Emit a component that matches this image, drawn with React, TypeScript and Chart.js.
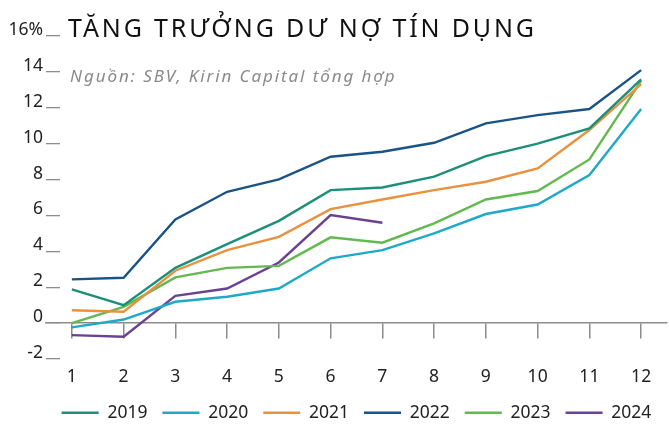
import React, { useEffect, useRef } from 'react';
import { Chart, registerables } from 'chart.js';

Chart.register(...registerables);

const months = ['1', '2', '3', '4', '5', '6', '7', '8', '9', '10', '11', '12'];
const seriesNames = ['2019', '2020', '2021', '2022', '2023', '2024'];
const seriesColors = ['#1B8F78', '#1FA9C9', '#E8923F', '#1A5386', '#62B94F', '#6A4193'];

const s2019 = [1.88, 1.0, 3.08, 4.4, 5.7, 7.41, 7.56, 8.16, 9.31, 10.0, 10.85, 13.58];
const s2020 = [-0.24, 0.2, 1.19, 1.47, 1.93, 3.61, 4.07, 5.0, 6.08, 6.61, 8.25, 11.93];
const s2021 = [0.72, 0.63, 2.92, 4.07, 4.81, 6.35, 6.89, 7.41, 7.88, 8.62, 10.76, 13.32];
const s2022 = [2.44, 2.53, 5.78, 7.32, 8.01, 9.27, 9.55, 10.05, 11.13, 11.59, 11.93, 14.1];
const s2023 = [0, 0.91, 2.55, 3.08, 3.19, 4.78, 4.48, 5.56, 6.89, 7.36, 9.12, 13.5];
const s2024 = [-0.67, -0.76, 1.52, 1.93, 3.38, 6.02, 5.59];

const seriesValues = [s2019, s2020, s2021, s2022, s2023, s2024];

const yMin = -2;
const yMax = 16;
const yStep = 2;
const yTopSuffix = '%';

const TITLE = 'TĂNG TRƯỞNG DƯ NỢ TÍN DỤNG';
const SUBTITLE = 'Nguồn: SBV, Kirin Capital tổng hợp';

const FONT = "'Noto Sans', sans-serif";
const AXIS_GREY = '#8c8c8c';

export default function App() {
  const ref = useRef<HTMLCanvasElement>(null);

  useEffect(() => {
    document.body.style.margin = '0';
    const canvas = ref.current!;
    const chart = new Chart(canvas, {
      type: 'line',
      data: {
        labels: months,
        datasets: seriesNames.map((name, i) => ({
          label: name,
          data: seriesValues[i],
          borderColor: seriesColors[i],
          backgroundColor: seriesColors[i],
          borderWidth: 2.4,
          pointRadius: 0,
          pointHoverRadius: 0,
          pointBorderWidth: 2.4,
          tension: 0,
          fill: false,
        })),
      },
      options: {
        animation: false,
        responsive: false,
        devicePixelRatio: 1,
        layout: { padding: { left: 0, right: 2, top: 36, bottom: 0 } },
        plugins: {
          tooltip: { enabled: false },
          legend: {
            position: 'bottom',
            fullSize: false,
            maxHeight: 36,
            labels: {
              usePointStyle: true,
              pointStyle: 'line',
              pointStyleWidth: 37,
              padding: 15,
              color: '#222',
              font: { family: FONT, size: 17.5 },
            },
          },
        },
        scales: {
          x: {
            type: 'category',
            offset: true,
            afterFit: (scale: any) => {
              scale.height = 30;
            },
            grid: { display: false, drawTicks: false, tickLength: 0 },
            border: { display: false },
            ticks: {
              padding: 8,
              color: '#222',
              font: { family: FONT, size: 17.5 },
            },
          },
          x2: {
            type: 'category',
            axis: 'x',
            labels: months,
            offset: true,
            position: { y: 0 },
            grid: {
              display: true,
              drawOnChartArea: false,
              drawTicks: true,
              tickLength: 15,
              offset: false,
              color: AXIS_GREY,
              lineWidth: 1.5,
            },
            border: { display: true, color: AXIS_GREY, width: 1.5 },
            ticks: { display: false },
          },
          y: {
            min: yMin,
            max: yMax,
            afterFit: (scale: any) => {
              scale.width = 46;
            },
            grid: {
              display: true,
              drawOnChartArea: false,
              drawTicks: true,
              tickLength: -14,
              color: AXIS_GREY,
              lineWidth: 1.3,
            },
            border: { display: false },
            ticks: {
              stepSize: yStep,
              padding: 17,
              labelOffset: -6,
              color: '#222',
              font: { family: FONT, size: 17.5 },
              callback: (v: any) => (Number(v) === yMax ? `${v}${yTopSuffix}` : `${v}`),
            },
          },
        },
      } as any,
    });
    return () => chart.destroy();
  }, []);

  return (
    <div
      style={{
        position: 'relative',
        width: 669,
        height: 425,
        background: '#fff',
        fontFamily: FONT,
        overflow: 'hidden',
      }}
    >
      <canvas ref={ref} width={669} height={425} style={{ display: 'block' }} />
      <div
        style={{
          position: 'absolute',
          left: 68,
          top: 14.5,
          fontSize: 25,
          lineHeight: 1,
          letterSpacing: '2.85px',
          color: '#111',
          whiteSpace: 'nowrap',
        }}
      >
        {TITLE}
      </div>
      <div
        style={{
          position: 'absolute',
          left: 70,
          top: 66.5,
          fontSize: 17,
          lineHeight: 1,
          letterSpacing: '1.9px',
          fontStyle: 'italic',
          color: '#8a8a8a',
          whiteSpace: 'nowrap',
        }}
      >
        {SUBTITLE}
      </div>
    </div>
  );
}
